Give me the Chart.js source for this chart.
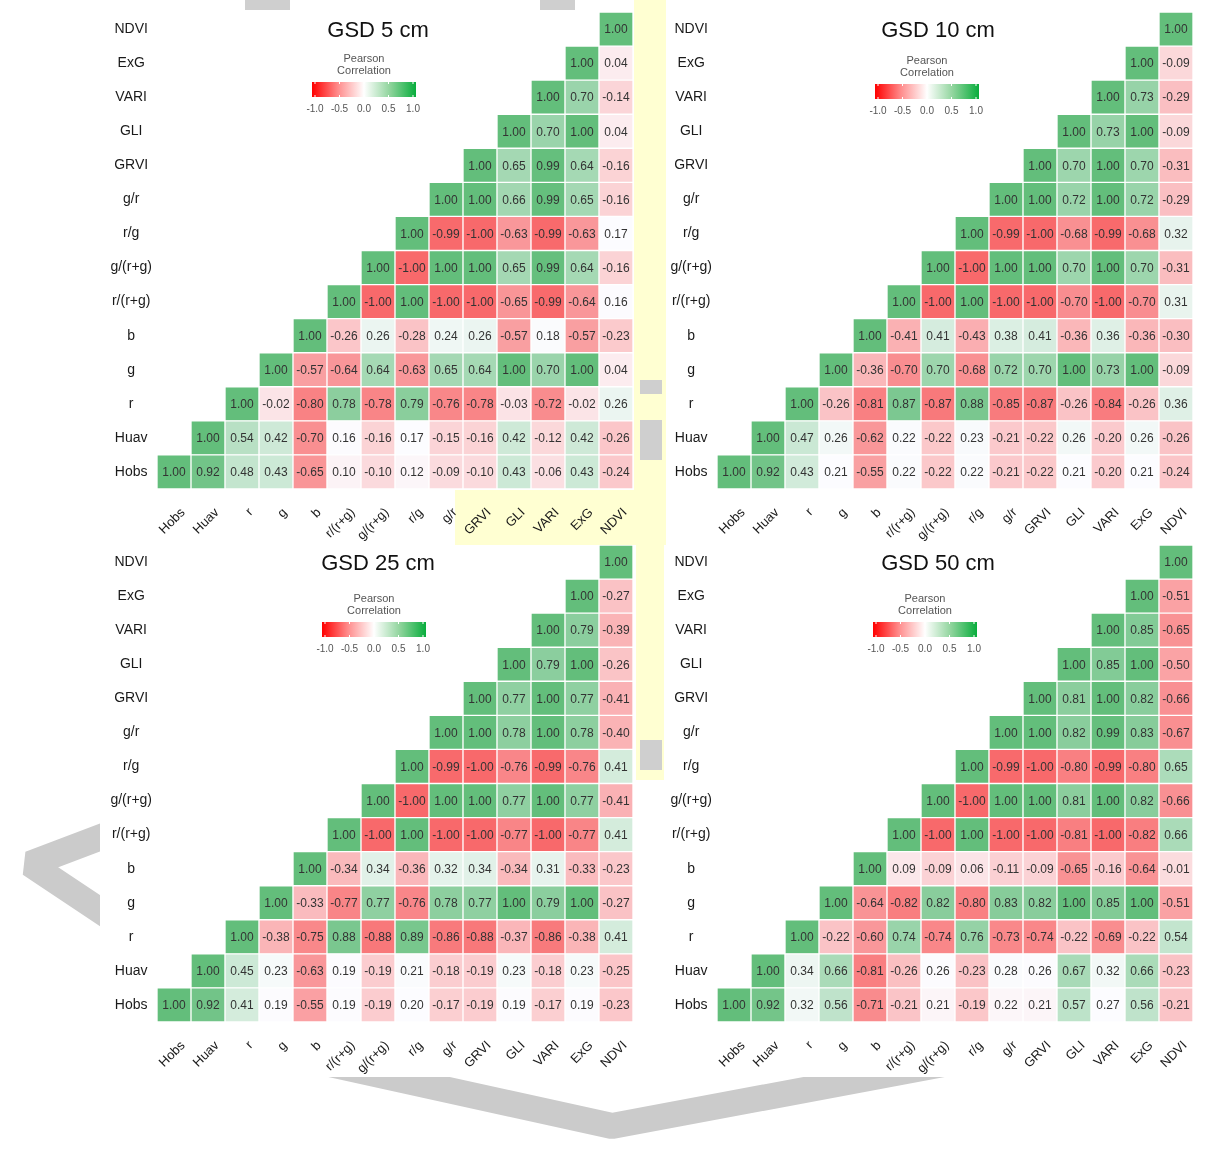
<!DOCTYPE html>
<html>
<head>
<meta charset="utf-8">
<script src="https://cdn.jsdelivr.net/npm/chart.js@4.4.1/dist/chart.umd.min.js"></script>
<style>
  body { margin: 0; background: #fff; }
  #wrap { position: relative; width: 1208px; height: 1159px; overflow: hidden; }
  #wrap canvas, #wrap svg { position: absolute; }
</style>
</head>
<body>
<div id="wrap">
  <svg width="1208" height="1159" style="left:0;top:0">
    <rect x="455" y="490" width="210" height="56" fill="#ffffd2"/>
    <rect x="634" y="0" width="32" height="780" fill="#ffffd2"/>
    <polyline points="125,828 30,864 330,1064 612,1126 965,1060 1208,1010" fill="none" stroke="#cbcbcb" stroke-width="26" stroke-linejoin="bevel"/>
    <rect x="100" y="545" width="536" height="532" fill="#fff"/>
    <rect x="664" y="545" width="544" height="532" fill="#fff"/>
    <rect x="100" y="0" width="534" height="490" fill="#fff"/>
    <rect x="666" y="0" width="542" height="545" fill="#fff"/>
    <rect x="640" y="380" width="22" height="14" fill="#cfcfcf"/>
    <rect x="640" y="420" width="22" height="40" fill="#cfcfcf"/>
    <rect x="640" y="740" width="22" height="30" fill="#cfcfcf"/>
    <rect x="245" y="0" width="45" height="10" fill="#cfcfcf"/>
    <rect x="540" y="0" width="35" height="10" fill="#cfcfcf"/>
  </svg>
  <canvas id="c0" width="545" height="545" style="left:100px;top:0px"></canvas>
  <canvas id="c1" width="545" height="545" style="left:660px;top:0px"></canvas>
  <canvas id="c2" width="545" height="545" style="left:100px;top:533px"></canvas>
  <canvas id="c3" width="545" height="545" style="left:660px;top:533px"></canvas>
</div>
<script>
// variables, bottom row first (Hobs) -> top row (NDVI)
const names = ["Hobs", "Huav", "r", "g", "b", "r/(r+g)", "g/(r+g)", "r/g", "g/r", "GRVI", "GLI", "VARI", "ExG", "NDVI"];

// each row starts at the diagonal cell
const gsd5 = [
  [1.00, 0.92, 0.48, 0.43, -0.65, 0.10, -0.10, 0.12, -0.09, -0.10, 0.43, -0.06, 0.43, -0.24],
  [1.00, 0.54, 0.42, -0.70, 0.16, -0.16, 0.17, -0.15, -0.16, 0.42, -0.12, 0.42, -0.26],
  [1.00, -0.02, -0.80, 0.78, -0.78, 0.79, -0.76, -0.78, -0.03, -0.72, -0.02, 0.26],
  [1.00, -0.57, -0.64, 0.64, -0.63, 0.65, 0.64, 1.00, 0.70, 1.00, 0.04],
  [1.00, -0.26, 0.26, -0.28, 0.24, 0.26, -0.57, 0.18, -0.57, -0.23],
  [1.00, -1.00, 1.00, -1.00, -1.00, -0.65, -0.99, -0.64, 0.16],
  [1.00, -1.00, 1.00, 1.00, 0.65, 0.99, 0.64, -0.16],
  [1.00, -0.99, -1.00, -0.63, -0.99, -0.63, 0.17],
  [1.00, 1.00, 0.66, 0.99, 0.65, -0.16],
  [1.00, 0.65, 0.99, 0.64, -0.16],
  [1.00, 0.70, 1.00, 0.04],
  [1.00, 0.70, -0.14],
  [1.00, 0.04],
  [1.00]
];
const gsd10 = [
  [1.00, 0.92, 0.43, 0.21, -0.55, 0.22, -0.22, 0.22, -0.21, -0.22, 0.21, -0.20, 0.21, -0.24],
  [1.00, 0.47, 0.26, -0.62, 0.22, -0.22, 0.23, -0.21, -0.22, 0.26, -0.20, 0.26, -0.26],
  [1.00, -0.26, -0.81, 0.87, -0.87, 0.88, -0.85, -0.87, -0.26, -0.84, -0.26, 0.36],
  [1.00, -0.36, -0.70, 0.70, -0.68, 0.72, 0.70, 1.00, 0.73, 1.00, -0.09],
  [1.00, -0.41, 0.41, -0.43, 0.38, 0.41, -0.36, 0.36, -0.36, -0.30],
  [1.00, -1.00, 1.00, -1.00, -1.00, -0.70, -1.00, -0.70, 0.31],
  [1.00, -1.00, 1.00, 1.00, 0.70, 1.00, 0.70, -0.31],
  [1.00, -0.99, -1.00, -0.68, -0.99, -0.68, 0.32],
  [1.00, 1.00, 0.72, 1.00, 0.72, -0.29],
  [1.00, 0.70, 1.00, 0.70, -0.31],
  [1.00, 0.73, 1.00, -0.09],
  [1.00, 0.73, -0.29],
  [1.00, -0.09],
  [1.00]
];
const gsd25 = [
  [1.00, 0.92, 0.41, 0.19, -0.55, 0.19, -0.19, 0.20, -0.17, -0.19, 0.19, -0.17, 0.19, -0.23],
  [1.00, 0.45, 0.23, -0.63, 0.19, -0.19, 0.21, -0.18, -0.19, 0.23, -0.18, 0.23, -0.25],
  [1.00, -0.38, -0.75, 0.88, -0.88, 0.89, -0.86, -0.88, -0.37, -0.86, -0.38, 0.41],
  [1.00, -0.33, -0.77, 0.77, -0.76, 0.78, 0.77, 1.00, 0.79, 1.00, -0.27],
  [1.00, -0.34, 0.34, -0.36, 0.32, 0.34, -0.34, 0.31, -0.33, -0.23],
  [1.00, -1.00, 1.00, -1.00, -1.00, -0.77, -1.00, -0.77, 0.41],
  [1.00, -1.00, 1.00, 1.00, 0.77, 1.00, 0.77, -0.41],
  [1.00, -0.99, -1.00, -0.76, -0.99, -0.76, 0.41],
  [1.00, 1.00, 0.78, 1.00, 0.78, -0.40],
  [1.00, 0.77, 1.00, 0.77, -0.41],
  [1.00, 0.79, 1.00, -0.26],
  [1.00, 0.79, -0.39],
  [1.00, -0.27],
  [1.00]
];
const gsd50 = [
  [1.00, 0.92, 0.32, 0.56, -0.71, -0.21, 0.21, -0.19, 0.22, 0.21, 0.57, 0.27, 0.56, -0.21],
  [1.00, 0.34, 0.66, -0.81, -0.26, 0.26, -0.23, 0.28, 0.26, 0.67, 0.32, 0.66, -0.23],
  [1.00, -0.22, -0.60, 0.74, -0.74, 0.76, -0.73, -0.74, -0.22, -0.69, -0.22, 0.54],
  [1.00, -0.64, -0.82, 0.82, -0.80, 0.83, 0.82, 1.00, 0.85, 1.00, -0.51],
  [1.00, 0.09, -0.09, 0.06, -0.11, -0.09, -0.65, -0.16, -0.64, -0.01],
  [1.00, -1.00, 1.00, -1.00, -1.00, -0.81, -1.00, -0.82, 0.66],
  [1.00, -1.00, 1.00, 1.00, 0.81, 1.00, 0.82, -0.66],
  [1.00, -0.99, -1.00, -0.80, -0.99, -0.80, 0.65],
  [1.00, 1.00, 0.82, 0.99, 0.83, -0.67],
  [1.00, 0.81, 1.00, 0.82, -0.66],
  [1.00, 0.85, 1.00, -0.50],
  [1.00, 0.85, -0.65],
  [1.00, -0.51],
  [1.00]
];

const titles = ["GSD 5 cm", "GSD 10 cm", "GSD 25 cm", "GSD 50 cm"];
const legendTicks = ["-1.0", "-0.5", "0.0", "0.5", "1.0"];

// colour scale midpoint (white) for each panel
const mids = [0.17, 0.21, 0.20, 0.27];
// colour bar position in each canvas
const barPos = [[212, 82], [215, 84], [222, 89], [213, 89]];

Chart.defaults.font.family = '"Liberation Sans", Arial, sans-serif';

function cellColor(v, mid) {
  const w = [252, 252, 255], g = [99, 190, 123], r = [248, 105, 107];
  var t, c;
  if (v >= mid) { t = (v - mid) / (1 - mid); c = g; }
  else { t = (mid - v) / (mid + 1); c = r; }
  t = Math.max(0, Math.min(1, t));
  const m = w.map((a, i) => Math.round(a + (c[i] - a) * t));
  return `rgb(${m[0]},${m[1]},${m[2]})`;
}

const cellText = {
  id: "cellText",
  afterDatasetsDraw(chart, args, opts) {
    const { ctx, scales: { x, y } } = chart;
    ctx.save();
    ctx.font = '12px "Liberation Sans", Arial, sans-serif';
    ctx.fillStyle = "#333";
    ctx.textAlign = "center";
    ctx.textBaseline = "middle";
    opts.values.forEach((row, r) => {
      row.forEach((v, k) => {
        ctx.fillText(v.toFixed(2), x.getPixelForValue(r + k), y.getPixelForValue(r) + 1);
      });
    });
    ctx.restore();
  }
};

const panelDecor = {
  id: "panelDecor",
  afterDraw(chart, args, opts) {
    const ctx = chart.ctx;
    ctx.save();
    ctx.font = '22px "Liberation Sans", Arial, sans-serif';
    ctx.fillStyle = "#111";
    ctx.textAlign = "center";
    ctx.textBaseline = "middle";
    ctx.fillText(opts.title, 278, 31);

    const bx = opts.bar[0], by = opts.bar[1], bw = 104, bh = 15;
    const cx = bx + bw / 2;
    ctx.font = '11px "Liberation Sans", Arial, sans-serif';
    ctx.fillStyle = "#555";
    ctx.fillText("Pearson", cx, by - 23);
    ctx.fillText("Correlation", cx, by - 11);

    const grad = ctx.createLinearGradient(bx, 0, bx + bw, 0);
    grad.addColorStop(0, "#ff0000");
    grad.addColorStop(0.25, "#ff8c8c");
    grad.addColorStop(0.5, "#ffffff");
    grad.addColorStop(0.75, "#8fd49c");
    grad.addColorStop(1, "#08ad3c");
    ctx.fillStyle = grad;
    ctx.fillRect(bx, by, bw, bh);

    ctx.font = '10px "Liberation Sans", Arial, sans-serif';
    legendTicks.forEach((lab, i) => {
      const tx = bx + 3 + i * (bw - 6) / 4;
      ctx.fillStyle = "#fff";
      ctx.fillRect(tx - 0.5, by, 1, 2);
      ctx.fillRect(tx - 0.5, by + bh - 2, 1, 2);
      ctx.fillStyle = "#555";
      ctx.fillText(lab, tx, by + 27);
    });
    ctx.restore();
  }
};

function makePanel(id, values, idx) {
  const datasets = values.map((row, r) => ({
    label: names[r],
    data: names.map((n, c) => (c >= r ? [r - 0.5, r + 0.5] : null)),
    backgroundColor: (ctx) => {
      const v = values[r][ctx.dataIndex - r];
      return v === undefined ? "transparent" : cellColor(v, mids[idx]);
    },
    borderColor: "#fff",
    borderWidth: 1,
    borderSkipped: false,
    barPercentage: 1,
    categoryPercentage: 1,
    grouped: false
  }));

  return new Chart(document.getElementById(id), {
    type: "bar",
    data: { labels: names, datasets: datasets },
    options: {
      responsive: false,
      animation: false,
      devicePixelRatio: 1,
      layout: { padding: { top: 12, right: 12, left: 0, bottom: 0 } },
      plugins: {
        legend: { display: false },
        tooltip: { enabled: false },
        cellText: { values: values },
        panelDecor: { title: titles[idx], bar: barPos[idx] }
      },
      scales: {
        x: {
          type: "category",
          grid: { display: false },
          border: { display: false },
          ticks: {
            autoSkip: false,
            minRotation: 45,
            maxRotation: 45,
            padding: 8,
            labelOffset: 9,
            color: "#1a1a1a",
            font: { size: 13 }
          },
          afterFit: (scale) => { scale.height = 56; }
        },
        y: {
          type: "linear",
          min: -0.5,
          max: 13.5,
          grid: { display: false },
          border: { display: false },
          afterBuildTicks: (scale) => {
            scale.ticks = names.map((n, i) => ({ value: i }));
          },
          ticks: {
            autoSkip: false,
            crossAlign: "center",
            padding: -3,
            color: "#1a1a1a",
            font: { size: 14 },
            callback: (v) => names[v]
          },
          afterFit: (scale) => { scale.width = 57; }
        }
      }
    },
    plugins: [cellText, panelDecor]
  });
}

makePanel("c0", gsd5, 0);
makePanel("c1", gsd10, 1);
makePanel("c2", gsd25, 2);
makePanel("c3", gsd50, 3);
</script>
</body>
</html>
